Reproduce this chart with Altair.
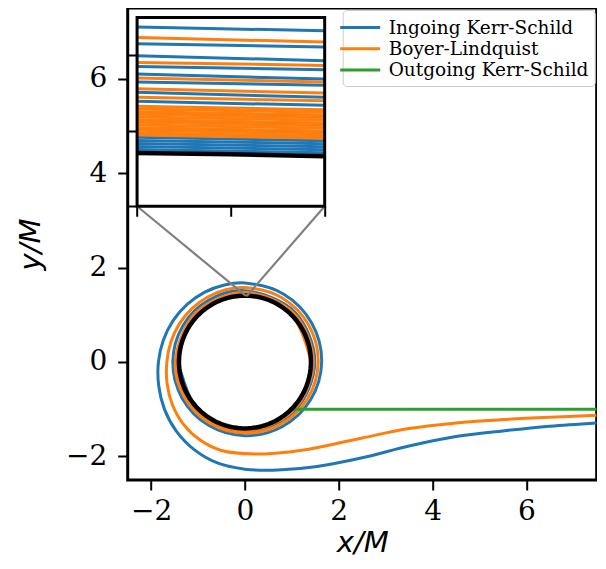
import altair as alt
import numpy as np
import pandas as pd

# ---------------- data ----------------
names = ["Ingoing Kerr-Schild", "Boyer-Lindquist", "Outgoing Kerr-Schild"]
colors = ["#1f77b4", "#ff7f0e", "#2ca02c"]

x_domain = [-2.5, 7.5]
y_domain = [-2.5, 7.5]
x_ticks = [-2, 0, 2, 4, 6]
y_ticks = [-2, 0, 2, 4, 6]

horizon_r = 1.4072

# Ingoing Kerr-Schild: incoming leg in (x, y), then windings in (phi [deg], r)
blue_x = [7.5, 6.5, 5.5, 4.5, 3.5, 2.5, 1.5, 0.7, 0.0]
blue_y = [-1.29, -1.36, -1.46, -1.58, -1.78, -2.03, -2.22, -2.29, -2.27]
blue_phi = [-105, -120, -135, -150, -165, -180, -195, -210, -225, -240, -255, -270,
            -300, -330, -360, -390, -420, -450, -480, -510, -540, -570, -600, -630,
            -675, -720, -765, -810, -855, -900, -945, -990, -1035, -1080, -1125,
            -1170, -1215, -1260]
blue_r = [2.22, 2.15, 2.07, 1.985, 1.905, 1.845, 1.80, 1.765, 1.735, 1.71, 1.69, 1.675,
          1.658, 1.646, 1.636, 1.612, 1.583, 1.56, 1.549, 1.543, 1.538, 1.53, 1.52, 1.51,
          1.50, 1.49, 1.48, 1.47, 1.462, 1.455, 1.448, 1.442, 1.437, 1.433, 1.429,
          1.426, 1.423, 1.42]

# Boyer-Lindquist
orange_x = [7.5, 6.5, 5.5, 4.5, 3.5, 2.5, 1.5, 0.9, 0.3]
orange_y = [-1.13, -1.17, -1.22, -1.29, -1.41, -1.61, -1.82, -1.91, -1.95]
orange_phi = [-105, -120, -135, -150, -165, -180, -195, -210, -225, -240, -255, -270,
              -300, -330, -360, -390, -420, -450, -480, -510, -540, -585, -630, -675,
              -720, -765, -810, -855, -900, -945, -990, -1035, -1080, -1125, -1170,
              -1215, -1260, -1305, -1350, -1395, -1440]
orange_r = [1.94, 1.91, 1.86, 1.79, 1.72, 1.665, 1.635, 1.615, 1.60, 1.59, 1.583, 1.577,
            1.572, 1.568, 1.562, 1.545, 1.525, 1.505, 1.495, 1.49, 1.485, 1.478, 1.47, 1.465,
            1.46, 1.455, 1.45, 1.445, 1.44, 1.437, 1.434, 1.431, 1.428, 1.425, 1.422,
            1.42, 1.418, 1.416, 1.414, 1.412, 1.41]

# Outgoing Kerr-Schild
green_x = [0.99, 7.5]
green_y = [-1.0, -1.0]

# Inset window and the crossings seen in it (y at left / right edge of window)
inset_xwin = [0.02, 0.04]
inset_ywin = [1.40, 1.425]
inset_xticks = [0.02, 0.03, 0.04]
inset_yticks = [1.40, 1.41, 1.42]
inset_blue_left = [1.42372, 1.42152, 1.41993, 1.41852, 1.41750, 1.41645, 1.41508, 1.41389,
                   1.41235, 1.41124, 1.41027, 1.40912, 1.40872, 1.40832, 1.40792, 1.40752]
inset_blue_right = [1.42324, 1.42108, 1.41927, 1.41808, 1.41684, 1.41601, 1.41442, 1.41336,
                    1.41191, 1.41080, 1.40983, 1.40868, 1.40828, 1.40788, 1.40748, 1.40708]
inset_orange_left = [1.42235, 1.41905, 1.41698, 1.41556, 1.41442, 1.41323, 1.41288, 1.41252,
                     1.41217, 1.41182, 1.41146, 1.41111, 1.41076, 1.41041, 1.41005, 1.40970, 1.40945]
inset_orange_right = [1.42174, 1.41865, 1.41645, 1.41499, 1.41398, 1.41279, 1.41244, 1.41208,
                      1.41173, 1.41138, 1.41102, 1.41067, 1.41032, 1.40997, 1.40961, 1.40926, 1.40900]

# inset placement in axes fractions [left, bottom, width, height]
inset_box = [0.02, 0.58, 0.40, 0.40]

# ---------------- layout ----------------
W, H = 469, 472
FONT_SERIF = "DejaVu Serif"
FONT_MATH = "DejaVu Sans"
LW = 3.0


def traj(xs, ys, phis, rs, name):
    ph = np.radians(np.array(phis, dtype=float))
    r = np.array(rs, dtype=float)
    X = list(xs) + list(r * np.cos(ph))
    Y = list(ys) + list(r * np.sin(ph))
    return pd.DataFrame({"x": X, "y": Y, "i": range(len(X)), "series": name})


df_blue = traj(blue_x, blue_y, blue_phi, blue_r, names[0])
df_orange = traj(orange_x, orange_y, orange_phi, orange_r, names[1])
df_green = pd.DataFrame({"x": green_x, "y": green_y, "i": range(len(green_x)), "series": names[2]})

th = np.radians(np.arange(0, 361, 3))
df_hor = pd.DataFrame({"x": horizon_r * np.cos(th), "y": horizon_r * np.sin(th), "i": range(len(th))})

# connectors from inset lower corners to the zoomed window
xspan = x_domain[1] - x_domain[0]
yspan = y_domain[1] - y_domain[0]
cx0 = x_domain[0] + inset_box[0] * xspan
cx1 = x_domain[0] + (inset_box[0] + inset_box[2]) * xspan
cy = y_domain[0] + inset_box[1] * yspan
df_conn = pd.DataFrame({
    "c": [0, 0, 1, 1],
    "x": [cx0, inset_xwin[0], cx1, inset_xwin[1]],
    "y": [cy, inset_ywin[0], cy, inset_ywin[0]],
})
df_win = pd.DataFrame({"x": [inset_xwin[0]], "x2": [inset_xwin[1]],
                       "y": [inset_ywin[0]], "y2": [inset_ywin[1]]})

xs_main = alt.Scale(domain=x_domain, nice=False, zero=False)
ys_main = alt.Scale(domain=y_domain, nice=False, zero=False)
color_scale = alt.Scale(domain=names, range=colors)

x_axis = alt.Axis(values=x_ticks, title="x/M", labelPadding=8, titlePadding=3)
y_axis = alt.Axis(values=y_ticks, title="y/M", labelPadding=11, titlePadding=20)

legend = alt.Legend(
    orient="top-right", title=None, offset=2, padding=6,
    fillColor="white", strokeColor="#cccccc", cornerRadius=4,
    labelFont=FONT_SERIF, labelFontSize=18.5, labelColor="black", labelLimit=400,
    symbolType="M-2,0H2", symbolSize=400, symbolStrokeWidth=3, symbolOffset=0,
    labelOffset=17, rowPadding=0.3,
)


def main_line(df, interp="catmull-rom"):
    return alt.Chart(df).mark_line(strokeWidth=LW, interpolate=interp, clip=True).encode(
        x=alt.X("x:Q", scale=xs_main, axis=x_axis),
        y=alt.Y("y:Q", scale=ys_main, axis=y_axis),
        order="i:Q",
        color=alt.Color("series:N", scale=color_scale, legend=legend),
    )


blue_layer = main_line(df_blue)
orange_layer = main_line(df_orange)
green_layer = main_line(df_green, "linear")
hor_layer = alt.Chart(df_hor).mark_line(color="black", strokeWidth=4.5).encode(
    x=alt.X("x:Q", scale=xs_main, axis=x_axis),
    y=alt.Y("y:Q", scale=ys_main, axis=y_axis),
    order="i:Q",
)
win_layer = alt.Chart(df_win).mark_rect(fillOpacity=0, stroke="gray", strokeWidth=1).encode(
    x=alt.X("x:Q", scale=xs_main, axis=x_axis), x2="x2:Q",
    y=alt.Y("y:Q", scale=ys_main, axis=y_axis), y2="y2:Q",
)
conn_layer = alt.Chart(df_conn).mark_line(color="gray", strokeWidth=2.2).encode(
    x=alt.X("x:Q", scale=xs_main, axis=x_axis),
    y=alt.Y("y:Q", scale=ys_main, axis=y_axis),
    detail="c:N",
)

main = alt.layer(blue_layer, orange_layer, green_layer, hor_layer, win_layer, conn_layer)

# ---- inset (own scales, mapped onto the inset box)
ix_span = (inset_xwin[1] - inset_xwin[0]) / inset_box[2]
ix0 = inset_xwin[0] - inset_box[0] * ix_span
iy_span = (inset_ywin[1] - inset_ywin[0]) / inset_box[3]
iy0 = inset_ywin[0] - inset_box[1] * iy_span
xs_in = alt.Scale(domain=[ix0, ix0 + ix_span], nice=False, zero=False)
ys_in = alt.Scale(domain=[iy0, iy0 + iy_span], nice=False, zero=False)

ix_axis = alt.Axis(orient="bottom", offset=-inset_box[1] * H, values=inset_xticks, labels=False,
                   domain=False, grid=False, title=None, tickSize=10, tickWidth=2)
iy_axis = alt.Axis(orient="left", offset=-inset_box[0] * W, values=inset_yticks, labels=False,
                   domain=False, grid=False, title=None, tickSize=10, tickWidth=2)


def seg_df(left, right, name):
    rows = []
    for k, (a, b) in enumerate(zip(left, right)):
        rows.append({"seg": k, "x": inset_xwin[0], "y": a, "series": name})
        rows.append({"seg": k, "x": inset_xwin[1], "y": b, "series": name})
    return pd.DataFrame(rows)


df_in_blue = seg_df(inset_blue_left, inset_blue_right, names[0])
df_in_orange = seg_df(inset_orange_left, inset_orange_right, names[1])
hx = np.array(inset_xticks)
df_in_hor = pd.DataFrame({"x": hx, "y": np.sqrt(horizon_r ** 2 - hx ** 2), "i": range(len(hx))})

in_bg = alt.Chart(df_win).mark_rect(fill="white").encode(
    x=alt.X("x:Q", scale=xs_in, axis=ix_axis), x2="x2:Q",
    y=alt.Y("y:Q", scale=ys_in, axis=iy_axis), y2="y2:Q",
)


def in_line(df):
    return alt.Chart(df).mark_line(strokeWidth=LW).encode(
        x=alt.X("x:Q", scale=xs_in, axis=ix_axis),
        y=alt.Y("y:Q", scale=ys_in, axis=iy_axis),
        detail="seg:N",
        color=alt.Color("series:N", scale=color_scale, legend=legend),
    )


in_hor = alt.Chart(df_in_hor).mark_line(color="black", strokeWidth=4.5).encode(
    x=alt.X("x:Q", scale=xs_in, axis=ix_axis),
    y=alt.Y("y:Q", scale=ys_in, axis=iy_axis),
    order="i:Q",
)
in_frame = alt.Chart(df_win).mark_rect(fillOpacity=0, stroke="black", strokeWidth=3).encode(
    x=alt.X("x:Q", scale=xs_in, axis=ix_axis), x2="x2:Q",
    y=alt.Y("y:Q", scale=ys_in, axis=iy_axis), y2="y2:Q",
)

inset = alt.layer(in_bg, in_line(df_in_blue), in_line(df_in_orange), in_hor, in_frame)

chart = alt.layer(main, inset).resolve_scale(x="independent", y="independent").properties(
    width=W, height=H, padding={"left": 7.7, "top": 0, "right": 0, "bottom": 0}
).configure_view(
    stroke="black", strokeWidth=3
).configure_axis(
    grid=False, domain=False,
    labelFont=FONT_SERIF, labelFontSize=28, labelColor="black",
    tickColor="black", tickSize=10, tickWidth=2,
    titleFont=FONT_MATH, titleFontSize=29, titleFontStyle="italic", titleFontWeight="normal",
    titleColor="black",
)

chart.save("out.html", embed_options={"renderer": "svg", "actions": False})
